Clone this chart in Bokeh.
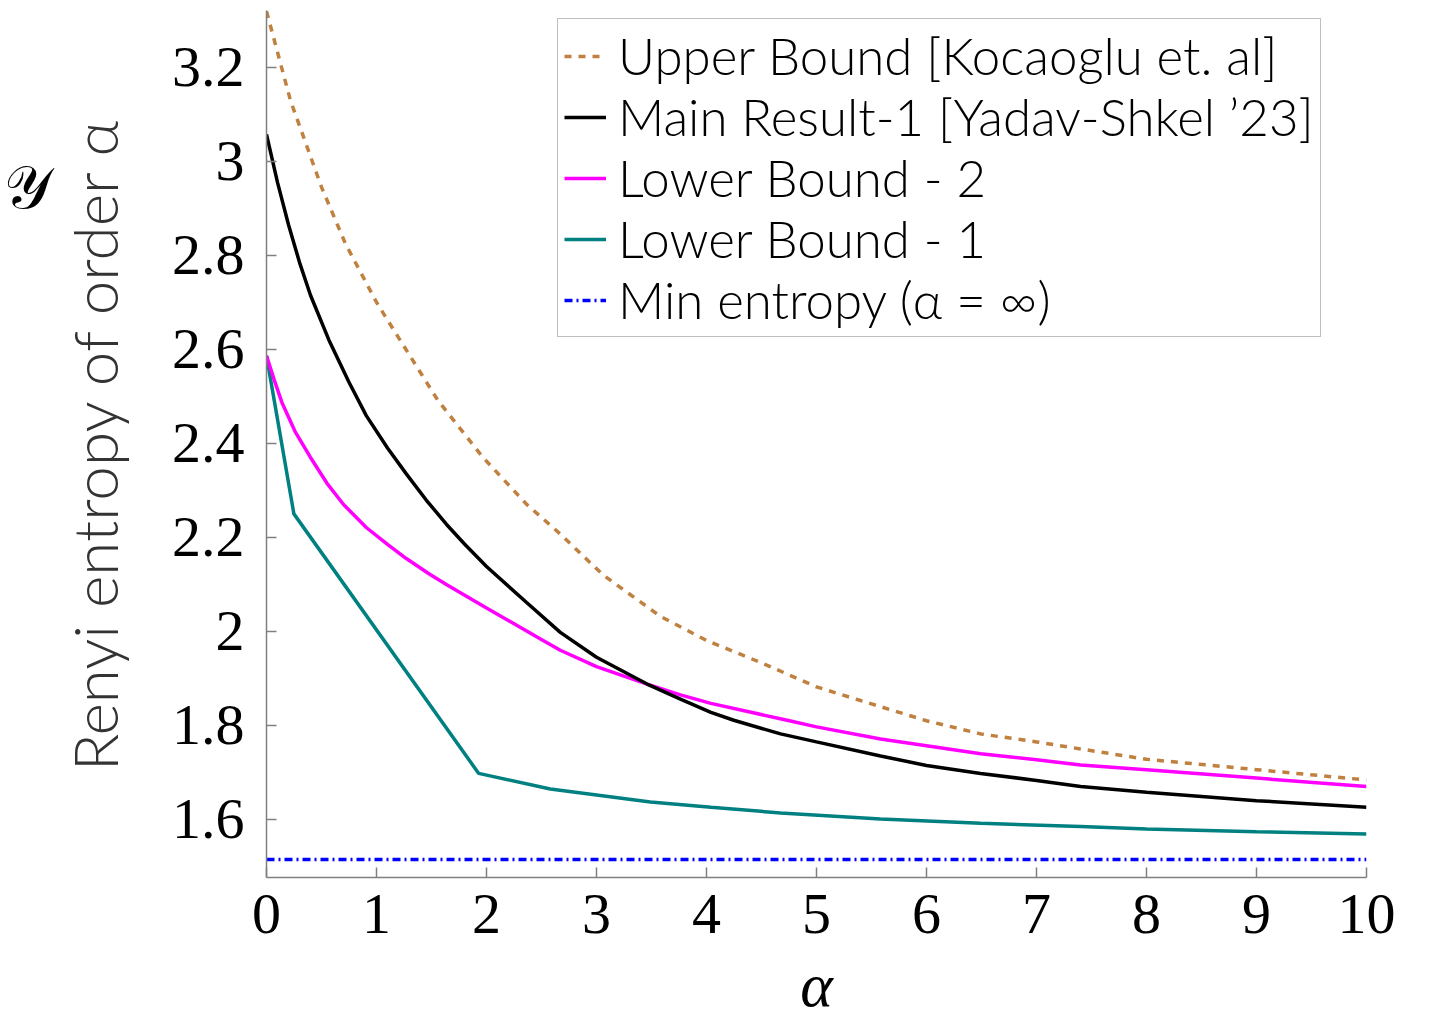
from bokeh.plotting import figure
from bokeh.models import Legend, LegendItem, LinearAxis, Range1d, FixedTicker
from bokeh.embed import file_html
from bokeh.resources import INLINE

# ---- data ----
alpha_ub = [0, 0.218, 0.5, 0.719, 1.0, 1.173, 1.559, 1.968, 2.362, 2.671, 3.06, 3.581, 4.006, 4.491,
            5.0, 5.40, 6.0, 6.492, 7.0, 7.401, 8.0, 9.0, 10.0]
upper_bound = [3.319, 3.129, 2.945, 2.824, 2.700, 2.635, 2.491, 2.370, 2.271, 2.207, 2.120, 2.032, 1.980,
               1.934, 1.882, 1.853, 1.810, 1.782, 1.765, 1.750, 1.728, 1.706, 1.684]

alpha_main = [0, 0.1, 0.2, 0.3, 0.4, 0.567, 0.75, 0.907, 1.1, 1.271, 1.45, 1.635, 1.8, 2.0, 2.362, 2.671,
              3.0, 3.46, 3.763, 4.04, 4.248, 4.673, 5.0, 5.582, 6.0, 6.492, 7.0, 7.401, 8.0, 9.0, 10.0]
main_result = [3.057, 2.955, 2.865, 2.785, 2.715, 2.620, 2.530, 2.459, 2.390, 2.335, 2.280, 2.228, 2.186,
               2.138, 2.062, 1.998, 1.945, 1.888, 1.856, 1.828, 1.811, 1.782, 1.765, 1.735, 1.715, 1.698,
               1.683, 1.670, 1.658, 1.640, 1.626]

alpha_lb2 = [0, 0.07, 0.14, 0.26, 0.4, 0.55, 0.7, 0.907, 1.1, 1.271, 1.48, 1.635, 2.0, 2.483, 2.671, 3.0,
             3.46, 3.763, 4.04, 4.733, 5.0, 5.582, 6.0, 6.492, 7.0, 7.401, 8.0, 9.0, 10.0]
lower_bound_2 = [2.586, 2.535, 2.487, 2.425, 2.370, 2.315, 2.270, 2.221, 2.185, 2.155, 2.122, 2.100, 2.050,
                 1.985, 1.960, 1.925, 1.888, 1.865, 1.847, 1.811, 1.797, 1.771, 1.757, 1.740, 1.727, 1.716,
                 1.706, 1.688, 1.670]

alpha_lb1 = [0, 0.249, 1.929, 2.58, 3.49, 4.04, 4.673, 5.582, 6.492, 7.401, 8.0, 9.0, 10.0]
lower_bound_1 = [2.586, 2.250, 1.698, 1.665, 1.637, 1.626, 1.614, 1.601, 1.592, 1.585, 1.580, 1.574, 1.569]

alpha_min = [0, 10]
min_entropy = [1.515, 1.515]

x_ticks = [0, 1, 2, 3, 4, 5, 6, 7, 8, 9, 10]
y_ticks = [1.6, 1.8, 2.0, 2.2, 2.4, 2.6, 2.8, 3.0, 3.2]
y_tick_labels = ["1.6", "1.8", "2", "2.2", "2.4", "2.6", "2.8", "3", "3.2"]

series_names = ["Upper Bound [Kocaoglu et. al]", "Main Result-1 [Yadav-Shkel \u201923]",
                "Lower Bound - 2", "Lower Bound - 1", "Min entropy (\u03b1 = \u221e)"]

# ---- figure ----
p = figure(width=1453, height=1021, output_backend="svg", toolbar_location=None,
           x_range=Range1d(0, 10), y_range=Range1d(1.4766, 3.3206),
           min_border_left=266, min_border_right=87, min_border_top=10, min_border_bottom=144)
p.outline_line_color = None
p.xgrid.visible = False
p.ygrid.visible = False
p.background_fill_color = "white"
p.border_fill_color = "white"

r_min = p.line(alpha_min, min_entropy, line_color="#0000FF", line_width=3.5, line_dash="8 4 2 4")
r_lb1 = p.line(alpha_lb1, lower_bound_1, line_color="#008080", line_width=3.5)
r_lb2 = p.line(alpha_lb2, lower_bound_2, line_color="#FF00FF", line_width=3.5)
r_main = p.line(alpha_main, main_result, line_color="black", line_width=3.5)
r_ub = p.line(alpha_ub, upper_bound, line_color="#BF8040", line_width=3.5, line_dash="7 7")

tick_font = "Liberation Serif"
for ax in (p.xaxis[0], p.yaxis[0]):
    ax.axis_line_color = "#808080"
    ax.axis_line_width = 1.5
    ax.major_tick_line_color = "#808080"
    ax.major_tick_line_width = 1.5
    ax.major_tick_in = 10
    ax.major_tick_out = 0
    ax.minor_tick_line_color = None
    ax.major_label_text_font = tick_font
    ax.major_label_text_font_size = "58px"
    ax.major_label_text_color = "black"

p.xaxis.ticker = FixedTicker(ticks=x_ticks)
p.yaxis.ticker = FixedTicker(ticks=y_ticks)
p.yaxis.major_label_overrides = {t: l for t, l in zip(y_ticks, y_tick_labels)}
p.xaxis.major_label_standoff = 17
p.yaxis.major_label_standoff = 22

p.xaxis.axis_label = "\u03b1"
p.xaxis.axis_label_text_font = "Liberation Serif"
p.xaxis.axis_label_text_font_style = "italic"
p.xaxis.axis_label_text_font_size = "62px"
p.xaxis.axis_label_text_color = "black"
p.xaxis.axis_label_standoff = 15

p.yaxis.axis_label = "Renyi entropy of order \u03b1"
p.yaxis.axis_label_text_font = "Lato Light"
p.yaxis.axis_label_text_font_style = "normal"
p.yaxis.axis_label_text_font_size = "62px"
p.yaxis.axis_label_text_color = "#333333"
p.yaxis.axis_label_standoff = 38

# script Y symbol at the top-left, drawn as the (upright) label of an extra bare axis;
# trailing blank lines lift it towards the top of the axis
sym_axis = LinearAxis(ticker=FixedTicker(ticks=[]), axis_label="\U0001D4B4" + "\n " * 7,
                      axis_line_color=None, major_tick_line_color=None, minor_tick_line_color=None,
                      major_label_text_font_size="0px", axis_label_orientation="horizontal",
                      axis_label_text_font="DejaVu Sans", axis_label_text_font_size="60px",
                      axis_label_text_line_height=1.05,
                      axis_label_text_font_style="normal", axis_label_text_color="black",
                      axis_label_standoff=3)
p.add_layout(sym_axis, "left")

legend = Legend(items=[LegendItem(label=n, renderers=[r]) for n, r in
                       zip(series_names, [r_ub, r_main, r_lb2, r_lb1, r_min])],
                location=(291, 540))
legend.label_text_font = "Lato Light"
legend.label_text_font_size = "51px"
legend.label_text_color = "black"
legend.label_height = 58
legend.glyph_height = 58
legend.glyph_width = 42
legend.label_standoff = 12
legend.spacing = 0
legend.padding = 6
legend.margin = 0
legend.border_line_color = "#808080"
legend.border_line_width = 1.5
legend.background_fill_alpha = 1.0
p.add_layout(legend, "center")

open("out.html", "w").write(file_html(p, INLINE))
